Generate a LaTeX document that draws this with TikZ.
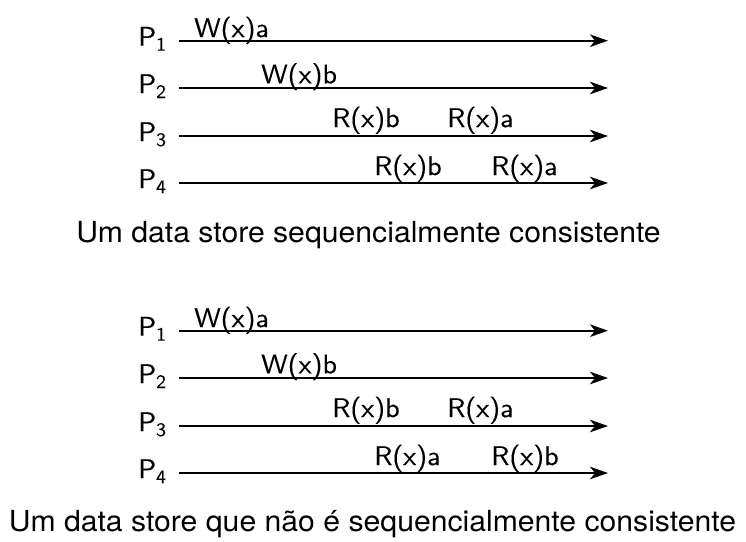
\documentclass[tikz,border=0pt]{standalone}
\usepackage{fontspec}
\usetikzlibrary{arrows.meta}
\newfontfamily\lblfont{lmsans10-regular.otf}[FakeStretch=1.04,FakeBold=0.3]
\newfontfamily\capfont{TeX Gyre Heros}[FakeStretch=1.04]
\newcommand{\procsub}[1]{\raisebox{-5pt}{\fontsize{19}{20}\selectfont #1}}
\tikzset{
  proc/.style={line width=2pt,-{Stealth[length=18pt,width=12.5pt,inset=5pt]}},
  oplbl/.style={anchor=base west,inner sep=0pt,font=\lblfont\fontsize{27}{31}\selectfont},
  plbl/.style={anchor=base west,inner sep=0pt,font=\lblfont\fontsize{27}{31}\selectfont},
  caption/.style={anchor=base,inner sep=0pt,font=\capfont\fontsize{29}{34}\selectfont}
}
\begin{document}
\begin{tikzpicture}[x=1pt,y=-1pt]
\useasboundingbox (0,0) rectangle (746,541);
% ---------- diagram 1 ----------
\foreach \i/\y in {1/40.7,2/88,3/136,4/183}{
  \coordinate (a\i s) at (179,\y);
  \coordinate (a\i e) at (608,\y);
  \node[plbl] (ap\i) at (138,\y+5) {P\procsub{\i}};
  \draw[proc] (a\i s) -- (a\i e);
}
\node[oplbl] (aw1) at (194,37) {W(x)a};
\node[oplbl] (aw2) at (261,83.3) {W(x)b};
\node[oplbl] (ar31) at (332,127) {R(x)b};
\node[oplbl] (ar32) at (447,127) {R(x)a};
\node[oplbl] (ar41) at (374,175) {R(x)b};
\node[oplbl] (ar42) at (491,175) {R(x)a};
\node[caption] (acap) at (368.5,242.5) {Um data store sequencialmente consistente};
% ---------- diagram 2 ----------
\foreach \i/\y in {1/330.7,2/378,3/426,4/473}{
  \coordinate (b\i s) at (179,\y);
  \coordinate (b\i e) at (608,\y);
  \node[plbl] (bp\i) at (138,\y+5) {P\procsub{\i}};
  \draw[proc] (b\i s) -- (b\i e);
}
\node[oplbl] (bw1) at (194,327) {W(x)a};
\node[oplbl] (bw2) at (261,373.3) {W(x)b};
\node[oplbl] (br31) at (332,417) {R(x)b};
\node[oplbl] (br32) at (447,417) {R(x)a};
\node[oplbl] (br41) at (374,465) {R(x)a};
\node[oplbl] (br42) at (491,465) {R(x)b};
\node[caption] (bcap) at (372.5,531) {Um data store que não é sequencialmente consistente};
\end{tikzpicture}
\end{document}
